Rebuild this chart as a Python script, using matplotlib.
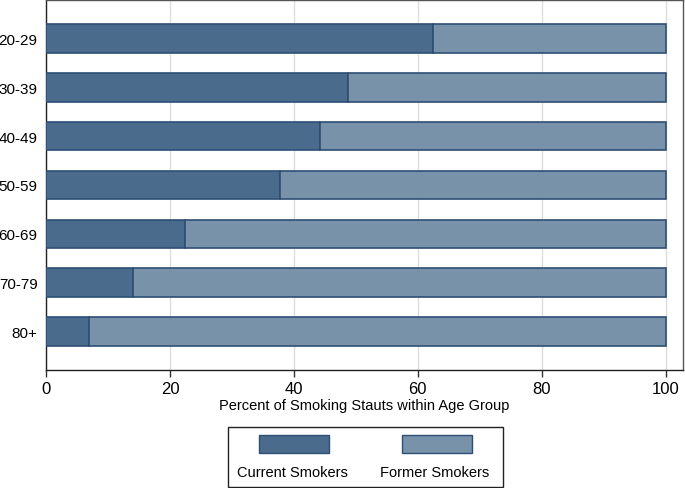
import matplotlib.pyplot as plt
from matplotlib.patches import Rectangle

plt.rcParams['font.family'] = ['Liberation Sans', 'DejaVu Sans']

# age groups and share of current smokers (%), the rest are former smokers
age_groups = ["20-29", "30-39", "40-49", "50-59", "60-69", "70-79", "80+"]
current = [62.4, 48.7, 44.2, 37.7, 22.5, 14.0, 7.0]
former = [100 - c for c in current]
series_names = ["Current Smokers", "Former Smokers"]

dark = "#4a6b8c"
light = "#7892aa"
edge = "#2d4f73"

fig = plt.figure(figsize=(6.85, 4.89), dpi=100)
ax = fig.add_axes([0.0672, 0.2413, 0.9298, 0.7567])

pos = list(range(len(age_groups)))
ax.barh(pos, current, height=0.58, color=dark, edgecolor=edge, linewidth=1.2, zorder=3)
ax.barh(pos, former, left=current, height=0.58, color=light, edgecolor=edge, linewidth=1.2, zorder=3)

ax.set_xlim(0, 102.8)
ax.set_ylim(6.79, -0.79)
ax.set_yticks(pos)
ax.set_yticklabels(age_groups, fontsize=11)
ax.tick_params(axis='y', length=0, pad=6)
ax.set_xticks([0, 20, 40, 60, 80, 100])
ax.tick_params(axis='x', labelsize=12, length=5, width=1, pad=3, color="#333333")
ax.grid(axis='x', color="#dddddd", linewidth=1, zorder=0)
for s in ax.spines.values():
    s.set_color("#222222")
    s.set_linewidth(1)
ax.spines['top'].set_color("#555555")
ax.spines['right'].set_color("#555555")
ax.set_xlabel("Percent of Smoking Stauts within Age Group", fontsize=10.5, labelpad=1)

# legend drawn by hand: swatch above label, two columns in a box
W, H = 685.0, 489.0
def fx(px):
    return px / W
def fy(py):
    return 1 - py / H

fig.patches.append(Rectangle((fx(228), fy(488)), fx(503) - fx(228), fy(428) - fy(488),
                             transform=fig.transFigure, fill=False, edgecolor="#222222", linewidth=1))
for name, col, x0 in zip(series_names, [dark, light], [259, 402]):
    fig.patches.append(Rectangle((fx(x0), fy(454)), fx(70), fy(436) - fy(454),
                                 transform=fig.transFigure, facecolor=col, edgecolor=edge, linewidth=1))
    fig.text(fx(x0 + 33), fy(473), name, ha='center', va='center', fontsize=10.5)

fig.savefig("out.png", dpi=100)
